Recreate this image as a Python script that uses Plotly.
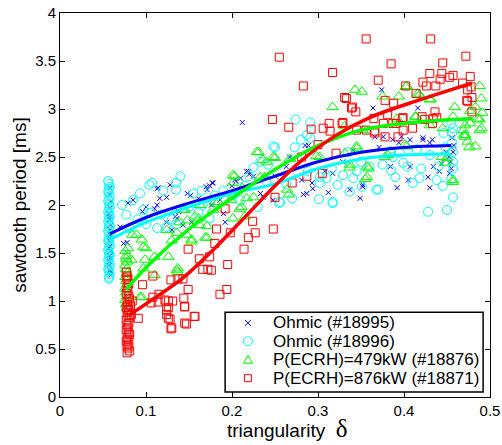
import plotly.graph_objects as go

# ---------------- data ----------------
# Ohmic (#18995) - blue crosses
blue_x = [0.058, 0.058, 0.059, 0.058, 0.057, 0.058, 0.059, 0.058, 0.058, 0.057, 0.058, 0.059, 0.058, 0.058, 0.057, 0.058, 0.059, 0.058, 0.058, 0.057, 0.058, 0.059,
          0.085, 0.079, 0.113, 0.124, 0.110, 0.148, 0.152, 0.170, 0.178, 0.174, 0.161, 0.176, 0.134, 0.136, 0.124, 0.130, 0.143, 0.153, 0.192, 0.217, 0.220,
          0.078, 0.070, 0.212, 0.219, 0.225, 0.233, 0.236, 0.248, 0.271, 0.285, 0.287, 0.294, 0.308, 0.317, 0.329, 0.337, 0.341, 0.349, 0.352,
          0.387, 0.394, 0.407, 0.422, 0.430, 0.405, 0.392, 0.430, 0.434, 0.441, 0.444, 0.366, 0.371, 0.128, 0.114, 0.116, 0.113, 0.171, 0.177,
          0.186, 0.190, 0.074, 0.374, 0.364, 0.416, 0.397, 0.422, 0.433, 0.376, 0.384, 0.407, 0.428, 0.453, 0.455, 0.449, 0.289, 0.267, 0.281,
          0.293, 0.283, 0.312, 0.352, 0.263, 0.250, 0.200, 0.205, 0.096, 0.100, 0.138, 0.452, 0.456, 0.454, 0.458, 0.203, 0.210, 0.455, 0.457]
blue_y = [2.18, 2.11, 2.04, 1.97, 1.91, 1.85, 1.79, 1.74, 1.69, 1.63, 1.57, 1.52, 1.47, 1.41, 1.37, 1.32, 1.27, 1.88, 1.66, 1.55, 1.44, 1.30,
          2.05, 2.02, 2.17, 2.08, 1.96, 2.12, 2.10, 2.19, 2.23, 2.20, 2.07, 2.00, 1.88, 1.86, 1.82, 1.74, 1.79, 1.82, 1.82, 2.35, 2.32,
          1.61, 1.77, 2.86, 2.35, 2.30, 2.12, 2.08, 2.05, 2.49, 2.62, 2.12, 2.17, 2.35, 2.33, 2.45, 2.16, 2.57, 2.07, 2.21,
          2.68, 2.65, 2.68, 2.68, 2.65, 2.26, 2.18, 2.18, 2.40, 2.35, 2.43, 2.71, 2.60, 2.21, 2.18, 2.07, 2.00, 2.16, 2.23,
          2.05, 1.91, 1.60, 3.20, 3.01, 3.01, 2.71, 2.70, 2.68, 2.71, 2.40, 2.40, 2.29, 2.33, 2.60, 2.55, 2.62, 2.50, 2.26,
          2.23, 2.11, 2.13, 2.19, 2.40, 2.30, 2.20, 2.25, 1.93, 1.98, 1.93, 2.50, 2.70, 2.45, 2.62, 2.26, 2.28, 2.38, 2.55]

# Ohmic (#18996) - cyan circles
cyan_x = [0.056, 0.057, 0.058, 0.057, 0.056, 0.057, 0.058, 0.057, 0.056, 0.057, 0.058, 0.057, 0.056, 0.057, 0.058, 0.057, 0.056, 0.057, 0.058, 0.057,
          0.056, 0.057, 0.058, 0.057, 0.056, 0.057, 0.058, 0.057, 0.056, 0.057, 0.058, 0.057, 0.056, 0.057, 0.058, 0.057, 0.056, 0.057, 0.058, 0.057, 0.057,
          0.140, 0.107, 0.104, 0.135, 0.155, 0.072, 0.085, 0.097, 0.105, 0.118, 0.124, 0.113, 0.130, 0.135, 0.081, 0.161, 0.174, 0.248, 0.273, 0.291,
          0.256, 0.270, 0.317, 0.288, 0.302, 0.310, 0.329, 0.341, 0.351, 0.368, 0.428, 0.457, 0.455, 0.410, 0.418, 0.438, 0.387, 0.384, 0.404, 0.420,
          0.430, 0.274, 0.291, 0.250, 0.280, 0.287, 0.225, 0.242, 0.233, 0.302, 0.316, 0.323, 0.337, 0.301, 0.317, 0.255, 0.263, 0.370, 0.390, 0.399,
          0.385, 0.456, 0.456, 0.446, 0.415, 0.457, 0.457, 0.457, 0.455, 0.457, 0.448, 0.200, 0.190, 0.210, 0.215, 0.180, 0.166, 0.150, 0.090, 0.100,
          0.077, 0.093, 0.120, 0.165, 0.135, 0.360, 0.350, 0.335, 0.345, 0.375, 0.395, 0.440, 0.445, 0.450, 0.230, 0.240, 0.220]
cyan_y = [2.25, 2.22, 2.19, 2.17, 2.14, 2.12, 2.09, 2.06, 2.04, 2.01, 1.98, 1.96, 1.93, 1.91, 1.88, 1.86, 1.83, 1.80, 1.78, 1.76,
          1.73, 1.71, 1.68, 1.65, 1.63, 1.61, 1.58, 1.56, 1.53, 1.50, 1.48, 1.46, 1.43, 1.41, 1.38, 1.36, 1.33, 1.31, 1.28, 1.25, 1.23,
          2.30, 2.23, 2.21, 2.16, 2.12, 2.00, 2.05, 1.95, 1.92, 1.90, 1.77, 1.76, 1.85, 1.80, 1.76, 1.92, 1.86, 2.61, 2.60, 2.70,
          2.03, 2.07, 2.03, 2.35, 2.23, 2.28, 2.31, 2.28, 2.19, 2.16, 1.93, 2.08, 2.27, 2.23, 2.28, 2.26, 2.50, 2.56, 2.40, 2.38,
          2.52, 2.89, 2.86, 2.60, 2.68, 2.73, 2.39, 2.42, 2.45, 2.29, 2.38, 2.21, 2.14, 2.06, 2.02, 2.02, 2.22, 2.16, 2.29, 2.44,
          2.36, 2.75, 2.65, 2.75, 2.58, 2.55, 2.45, 2.38, 2.85, 2.80, 2.60, 2.10, 2.15, 2.05, 2.20, 2.10, 2.00, 1.98, 1.85, 1.80,
          1.90, 2.12, 2.15, 2.15, 2.23, 2.40, 2.45, 2.55, 2.35, 2.42, 2.55, 2.40, 2.20, 1.95, 1.98, 2.25, 2.30]

# P(ECRH)=479kW (#18876) - green triangles
green_x = [0.076, 0.077, 0.078, 0.076, 0.077, 0.078, 0.076, 0.077, 0.078, 0.076, 0.077, 0.078, 0.076, 0.077, 0.078, 0.077,
           0.203, 0.229, 0.184, 0.163, 0.143, 0.157, 0.139, 0.148, 0.162, 0.171, 0.201, 0.215, 0.209, 0.217, 0.225, 0.124, 0.136, 0.147,
           0.153, 0.169, 0.089, 0.095, 0.097, 0.079, 0.110, 0.126, 0.137, 0.083, 0.097, 0.231, 0.248, 0.240, 0.267, 0.298, 0.331, 0.381,
           0.403, 0.345, 0.450, 0.457, 0.483, 0.471, 0.488, 0.357, 0.357, 0.337, 0.264, 0.201, 0.233, 0.201, 0.212, 0.180, 0.198, 0.211,
           0.178, 0.145, 0.161, 0.171, 0.153, 0.130, 0.084, 0.100, 0.343, 0.351, 0.403, 0.488, 0.490, 0.317, 0.375, 0.394, 0.418, 0.431,
           0.459, 0.483, 0.491, 0.486, 0.457, 0.471, 0.490, 0.471, 0.430, 0.445, 0.392, 0.331, 0.352, 0.413, 0.236, 0.250, 0.266, 0.302,
           0.345, 0.337, 0.359, 0.355, 0.238, 0.402, 0.416, 0.430, 0.477, 0.488, 0.414, 0.477, 0.469, 0.470, 0.474, 0.476, 0.401, 0.378,
           0.444, 0.448, 0.457, 0.099, 0.110, 0.093, 0.136, 0.095, 0.137]
green_y = [1.52, 1.47, 1.41, 1.37, 1.33, 1.29, 1.25, 1.21, 1.17, 1.13, 1.09, 1.05, 1.01, 0.97, 0.93, 1.44,
           2.30, 2.55, 2.03, 2.00, 1.95, 1.88, 1.82, 1.84, 1.79, 1.78, 1.86, 1.88, 1.96, 2.07, 2.08, 1.74, 1.71, 1.69,
           1.64, 1.66, 1.69, 1.64, 1.56, 1.55, 1.46, 1.46, 1.34, 1.43, 1.34, 2.55, 2.50, 2.45, 2.48, 2.51, 2.54, 2.52,
           2.61, 2.59, 2.49, 2.26, 2.61, 2.71, 2.78, 2.40, 2.29, 2.42, 2.16, 2.31, 2.29, 2.23, 2.18, 2.03, 2.05, 1.98,
           1.95, 1.95, 1.86, 1.66, 1.62, 1.63, 1.69, 1.55, 3.20, 3.18, 3.24, 3.24, 3.11, 3.02, 3.13, 3.13, 3.15, 3.10,
           3.02, 3.02, 2.96, 2.90, 2.92, 2.83, 2.80, 2.73, 2.83, 2.80, 2.90, 2.82, 2.78, 2.92, 2.47, 2.49, 2.11, 2.50,
           2.61, 2.39, 2.38, 2.27, 2.29, 3.23, 3.16, 3.10, 2.98, 2.89, 2.92, 2.85, 2.78, 2.73, 2.66, 2.60, 2.63, 2.50,
           2.50, 2.44, 2.24, 1.43, 1.27, 1.04, 1.32, 1.04, 1.30]

# P(ECRH)=876kW (#18871) - red squares
red_x = [0.077, 0.078, 0.079, 0.080, 0.078, 0.079, 0.077, 0.080, 0.081, 0.078, 0.079, 0.077, 0.080, 0.078, 0.079, 0.081, 0.077, 0.080, 0.078, 0.079,
         0.077, 0.080, 0.081, 0.078, 0.079, 0.077, 0.080, 0.078, 0.079, 0.081, 0.078, 0.080, 0.082, 0.083, 0.084,
         0.077, 0.108, 0.096, 0.129, 0.143, 0.108, 0.115, 0.106, 0.114, 0.126, 0.131, 0.126, 0.144, 0.149, 0.145, 0.124, 0.126, 0.128,
         0.091, 0.129, 0.147, 0.156, 0.186, 0.194, 0.166, 0.176, 0.124, 0.130, 0.145, 0.157, 0.145, 0.195, 0.172, 0.137, 0.122,
         0.192, 0.182, 0.198, 0.224, 0.219, 0.214, 0.180, 0.174, 0.162, 0.149, 0.255, 0.317, 0.283, 0.247, 0.266, 0.292, 0.306, 0.313,
         0.314, 0.329, 0.345, 0.356, 0.366, 0.370, 0.333, 0.340, 0.344, 0.300, 0.321, 0.281, 0.287, 0.305, 0.270, 0.250, 0.248, 0.227,
         0.356, 0.431, 0.472, 0.385, 0.445, 0.430, 0.444, 0.457, 0.477, 0.422, 0.426, 0.437, 0.442, 0.453, 0.468, 0.478, 0.479, 0.473,
         0.479, 0.331, 0.378, 0.388, 0.414, 0.339, 0.436, 0.438, 0.434, 0.328, 0.381, 0.398, 0.391, 0.410, 0.424, 0.402, 0.433, 0.421,
         0.399, 0.399, 0.387, 0.376, 0.365, 0.366, 0.378, 0.393, 0.474, 0.474]
red_y = [1.30, 1.26, 1.22, 1.18, 1.14, 1.11, 1.08, 1.05, 1.02, 0.99, 0.96, 0.93, 0.91, 0.88, 0.85, 0.83, 0.80, 0.77, 0.75, 0.72,
         0.70, 0.67, 0.65, 0.62, 0.60, 0.58, 0.55, 0.53, 0.51, 0.48, 0.46, 0.90, 0.95, 0.86, 1.00,
         1.24, 1.26, 1.17, 1.22, 1.23, 1.04, 1.07, 0.98, 0.99, 1.00, 1.00, 0.93, 1.03, 1.12, 0.94, 0.86, 0.82, 0.81,
         0.82, 0.71, 0.76, 0.84, 1.07, 1.12, 1.33, 1.32, 0.91, 0.72, 0.77, 0.84, 0.94, 1.38, 1.33, 1.23, 1.01,
         1.96, 1.75, 1.71, 1.83, 1.66, 1.54, 1.60, 1.46, 1.44, 1.54, 3.54, 3.38, 3.24, 2.89, 2.81, 2.79, 2.80, 2.85,
         2.77, 2.86, 2.78, 2.78, 2.77, 3.30, 3.11, 3.02, 2.97, 2.63, 2.54, 2.50, 2.30, 2.33, 2.23, 2.08, 1.75, 1.71,
         3.73, 3.73, 3.55, 3.47, 3.48, 3.37, 3.37, 3.35, 3.34, 3.28, 3.24, 3.24, 3.31, 3.33, 3.27, 3.23, 3.12, 3.09,
         2.97, 3.12, 3.09, 3.06, 3.16, 3.01, 2.97, 2.91, 2.90, 2.85, 2.94, 2.90, 2.85, 2.80, 2.89, 3.24, 2.85, 2.92,
         2.78, 2.91, 2.85, 2.85, 2.90, 2.75, 2.71, 2.71, 3.20, 3.08]

# fitted trend curves (knots)
fit_blue_x = [0.058, 0.10, 0.15, 0.20, 0.25, 0.30, 0.35, 0.40, 0.455]
fit_blue_y = [1.70, 1.87, 2.02, 2.15, 2.30, 2.45, 2.55, 2.60, 2.62]
fit_cyan_x = [0.058, 0.10, 0.15, 0.20, 0.25, 0.30, 0.35, 0.40, 0.455]
fit_cyan_y = [1.64, 1.82, 1.98, 2.12, 2.22, 2.38, 2.48, 2.52, 2.53]
fit_green_x = [0.077, 0.10, 0.15, 0.20, 0.25, 0.30, 0.35, 0.40, 0.48]
fit_green_y = [1.12, 1.35, 1.75, 2.07, 2.37, 2.62, 2.78, 2.85, 2.90]
fit_red_x = [0.08, 0.10, 0.143, 0.18, 0.221, 0.25, 0.279, 0.32, 0.36, 0.42, 0.479]
fit_red_y = [0.85, 0.97, 1.24, 1.55, 1.93, 2.20, 2.45, 2.72, 2.91, 3.10, 3.27]

names = ["Ohmic (#18995)", "Ohmic (#18996)", "P(ECRH)=479kW (#18876)", "P(ECRH)=876kW (#18871)"]
x_ticks = [0, 0.1, 0.2, 0.3, 0.4, 0.5]
y_ticks = [0, 0.5, 1, 1.5, 2, 2.5, 3, 3.5, 4]

# ---------------- figure ----------------
FONT = "Liberation Sans, Arial, Helvetica, sans-serif"
SERIF = "Liberation Serif, Times New Roman, serif"
fig = go.Figure()

colors = ["#0000ff", "#00ffff", "#00ff00", "#ff0000"]
series = [
    (blue_x, blue_y, "x-thin-open", 5),
    (cyan_x, cyan_y, "circle-open", 9),
    (green_x, green_y, "triangle-up-open", 10),
    (red_x, red_y, "square-open", 8),
]
for (xs, ys, sym, sz), nm, col in zip(series, names, colors):
    fig.add_trace(go.Scatter(
        x=xs, y=ys, mode="markers", name=nm,
        marker=dict(symbol=sym, size=sz, color=col, line=dict(color=col, width=1)),
    ))

fits = [
    (fit_cyan_x, fit_cyan_y, "#00ffff", 3),
    (fit_blue_x, fit_blue_y, "#0000ff", 3),
    (fit_green_x, fit_green_y, "#00ff00", 3.5),
    (fit_red_x, fit_red_y, "#ff0000", 3.5),
]
for xs, ys, col, w in fits:
    fig.add_trace(go.Scatter(
        x=xs, y=ys, mode="lines", showlegend=False, hoverinfo="skip",
        line=dict(color=col, width=w, shape="spline", smoothing=1.0),
    ))

axis_common = dict(
    showline=True, linecolor="black", linewidth=1, mirror="ticks",
    ticks="inside", ticklen=5, tickcolor="black", tickwidth=1,
    showgrid=False, zeroline=False,
    tickfont=dict(family=FONT, size=15, color="black"),
)
fig.update_xaxes(range=[0, 0.5], tickvals=x_ticks, ticktext=[f"{v:g}" for v in x_ticks], **axis_common)
fig.update_yaxes(range=[0, 4], tickvals=y_ticks, ticktext=[f"{v:g}" for v in y_ticks],
                 title=dict(text="sawtooth period [ms]",
                            font=dict(family=FONT, size=19, color="black"), standoff=3),
                 **axis_common)

# legend box drawn in the MATLAB style (box, symbol, label) in paper coordinates
leg_x0, leg_x1, leg_y0, leg_y1 = 0.384, 0.984, 0.013, 0.221
leg_sym_x, leg_txt_x = 0.437, 0.491
leg_rows = [0.193, 0.145, 0.097, 0.049]
shapes = [dict(type="rect", xref="paper", yref="paper", x0=leg_x0, x1=leg_x1, y0=leg_y0, y1=leg_y1,
               line=dict(color="black", width=1.5), fillcolor="white", layer="above")]
sym_paths = [
    "M-3,-3 L3,3 M-3,3 L3,-3",          # x
    None,                               # circle
    "M-4.5,-3.5 L4.5,-3.5 L0,4.5 Z",    # triangle
    "M-3.5,-3.5 L3.5,-3.5 L3.5,3.5 L-3.5,3.5 Z",  # square
]
annotations = []
for i, (row, nm, col) in enumerate(zip(leg_rows, names, colors)):
    common = dict(xref="paper", yref="paper", xsizemode="pixel", ysizemode="pixel",
                  xanchor=leg_sym_x, yanchor=row, line=dict(color=col, width=1), layer="above")
    if sym_paths[i] is None:
        shapes.append(dict(type="circle", x0=-4.5, x1=4.5, y0=-4.5, y1=4.5, **common))
    else:
        shapes.append(dict(type="path", path=sym_paths[i], **common))
    annotations.append(dict(xref="paper", yref="paper", x=leg_txt_x, y=row, xanchor="left", yanchor="middle",
                            text=nm, showarrow=False, font=dict(family=FONT, size=17, color="black")))

# x-axis label (MATLAB places it slightly right of centre)
annotations.append(dict(xref="paper", yref="paper", x=0.528, y=-0.123, xanchor="center", yanchor="bottom",
                        text="triangularity&nbsp; <span style='font-family:" + SERIF + ";font-size:25px'>δ</span>",
                        showarrow=False, font=dict(family=FONT, size=19, color="black")))

fig.update_layout(
    width=502, height=445,
    margin=dict(l=60, r=12, t=13, b=48, autoexpand=False),
    paper_bgcolor="white", plot_bgcolor="white",
    font=dict(family=FONT, color="black"),
    showlegend=False,
    shapes=shapes, annotations=annotations,
)

fig.write_html("out.html", config={"displayModeBar": False},
               post_script="document.body.style.margin='0';")
